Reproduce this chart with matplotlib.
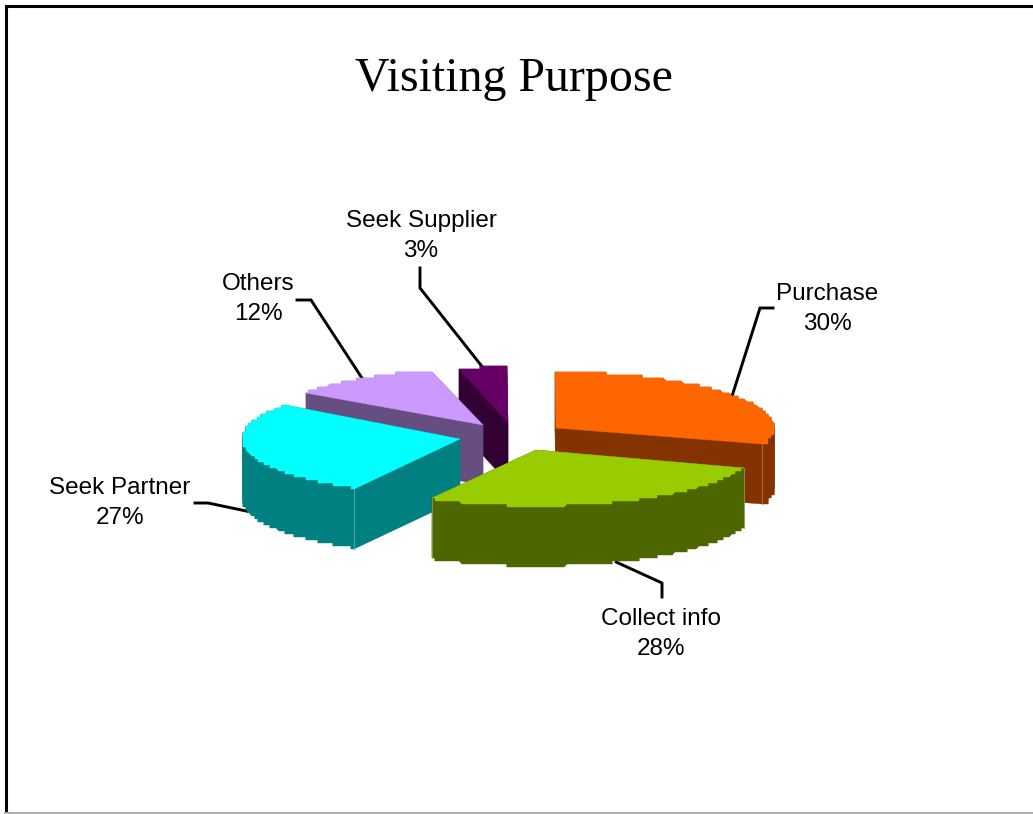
import numpy as np
import matplotlib
matplotlib.use('Agg')
import matplotlib.pyplot as plt

# data (slice sizes from the angles, labels as printed)
categories = ['Purchase', 'Collect info', 'Seek Partner', 'Others', 'Seek Supplier']
shares = [30.0, 28.0, 27.0, 11.3, 3.7]
pct_labels = ['30%', '28%', '27%', '12%', '3%']
top_colors = ['#ff6600', '#99cc00', '#00ffff', '#cc99ff', '#660066']
wall_colors = ['#833200', '#4d6600', '#008080', '#664e80', '#330033']
edge_colors = ['#b5744d', '#8a9c5c', '#5cb0b0', '#9a8aac', '#8a4d8a']

# pie geometry, in pixels
RX, RY = 218, 56
DEPTH = 60
GRID = 3
# apex of every exploded slice
apex = {'Purchase': (556, 428), 'Collect info': (536, 450), 'Seek Partner': (460, 439),
        'Others': (483, 425), 'Seek Supplier': (508, 423)}
# leader elbow and end, label centre
leader = {'Purchase': ((760, 308), (773, 308)), 'Collect info': ((662, 583), (662, 597)),
          'Seek Partner': ((208, 503), (195, 503)), 'Others': ((311, 300), (297, 300)),
          'Seek Supplier': ((420, 288), (420, 268))}
label_pos = {'Purchase': (827, 309), 'Collect info': (661, 634), 'Seek Partner': (120, 503),
             'Others': (258, 299), 'Seek Supplier': (421, 236)}
draw_order = ['Seek Supplier', 'Others', 'Purchase', 'Seek Partner', 'Collect info']


def arc(cx, cy, a0, a1):
    # clockwise from 12 o'clock, stepped like the low resolution original
    t = np.radians(np.linspace(a0, a1, 400))
    x = cx + RX * np.sin(t)
    y = cy - RY * np.cos(t)
    x = np.round(x / GRID) * GRID
    y = np.round(y / GRID) * GRID
    return x, y


fig = plt.figure(figsize=(10.33, 8.14), dpi=100)
ax = fig.add_axes([0, 0, 1, 1])
ax.set_xlim(0, 1033)
ax.set_ylim(814, 0)
ax.axis('off')

# frame
ax.plot([5.5, 5.5, 1033], [814, 6, 6], color='black', lw=2.2, solid_joinstyle='miter')
ax.plot([5, 1033], [813, 813], color='#b0b0b0', lw=1.5)

edges = np.cumsum([0] + shares) * 3.6
angles = {c: (edges[i], edges[i + 1]) for i, c in enumerate(categories)}

# leaders first, slices cover their start
for i, c in enumerate(categories):
    cx, cy = apex[c]
    mid = np.radians(sum(angles[c]) / 2)
    sx = cx + RX * np.sin(mid)
    sy = cy - RY * np.cos(mid)
    if np.cos(mid) < 0:
        sy += DEPTH
    (ex, ey), (fx, fy) = leader[c]
    ax.plot([sx, ex, fx], [sy, ey, fy], color='black', lw=2.1, zorder=1,
            solid_joinstyle='miter')
    ax.text(label_pos[c][0], label_pos[c][1], c + '\n' + pct_labels[i], ha='center', va='center',
            fontsize=17.5, family='Liberation Sans', linespacing=1.45, zorder=5)

for z, c in enumerate(draw_order):
    i = categories.index(c)
    cx, cy = apex[c]
    a0, a1 = angles[c]
    ax_, ay_ = arc(cx, cy, a0, a1)
    px = np.concatenate([[cx], ax_])
    py = np.concatenate([[cy], ay_])
    # walls: the slice outline pushed down by the depth
    for k in range(len(px)):
        k2 = (k + 1) % len(px)
        if px[k] == px[k2] and py[k] == py[k2]:
            continue
        ax.fill([px[k], px[k2], px[k2], px[k]], [py[k], py[k2], py[k2] + DEPTH, py[k] + DEPTH],
                color=wall_colors[i], lw=0.3, zorder=2 + z)
    ax.fill(px, py, color=top_colors[i], lw=0.3, zorder=2 + z)
    # thin light line down the front corners of the slice
    for t in (0, -1):
        if ay_[t] > cy:
            ax.plot([ax_[t], ax_[t]], [ay_[t], ay_[t] + DEPTH], color=edge_colors[i], lw=0.6,
                    zorder=2 + z)

fig.text(0.4975, 0.9025, 'Visiting Purpose', ha='center', va='center', fontsize=34.5,
         family='Liberation Serif')

fig.savefig('out.png', dpi=100)
